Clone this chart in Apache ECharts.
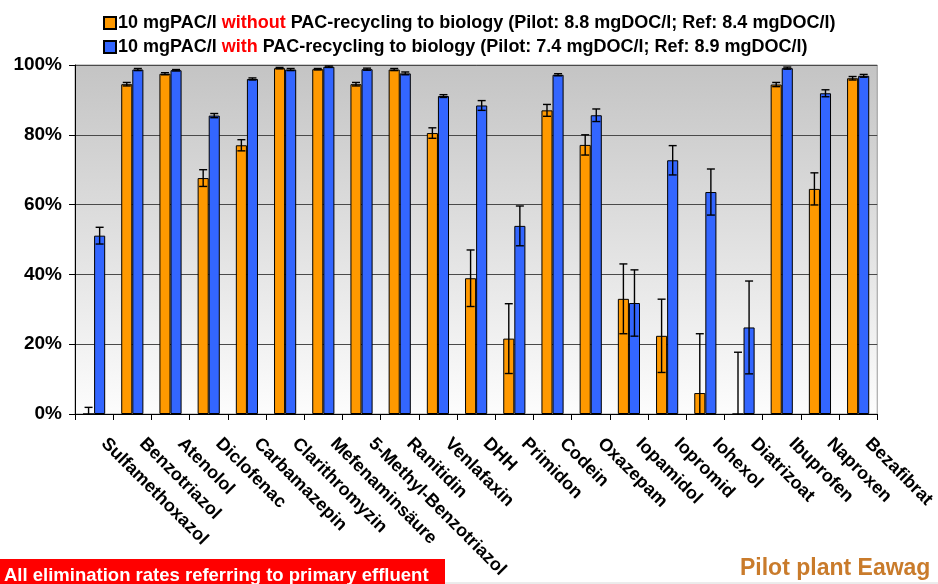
<!DOCTYPE html>
<html>
<head>
<meta charset="utf-8">
<script src="https://cdn.jsdelivr.net/npm/echarts@6/dist/echarts.min.js"></script>
<style>
  html, body { margin: 0; padding: 0; background: #fff; }
  #chart { width: 938px; height: 584px; }
</style>
</head>
<body>
<div id="chart"></div>
<script>
// Substances measured in the pilot plant
const categories = ['Sulfamethoxazol', 'Benzotriazol', 'Atenolol', 'Diclofenac', 'Carbamazepin',
  'Clarithromyzin', 'Mefenaminsäure', '5-Methyl-Benzotriazol', 'Ranitidin', 'Venlafaxin', 'DHH',
  'Primidon', 'Codein', 'Oxazepam', 'Iopamidol', 'Iopromid', 'Iohexol', 'Diatrizoat',
  'Ibuprofen', 'Naproxen', 'Bezafibrat'];

// Elimination (%) without PAC recycling, and its standard deviation
const withoutRecycling = [0, 94.5, 97.5, 67.6, 77.0, 99.1, 98.8, 94.5, 98.7, 80.5, 38.9,
  21.6, 87.0, 77.1, 33.0, 22.4, 6.0, 0, 94.4, 64.5, 96.2];
const withoutRecyclingErr = [1.9, 0.5, 0.3, 2.4, 1.6, 0.2, 0.2, 0.5, 0.3, 1.5, 8.1,
  10.0, 1.7, 2.9, 10.0, 10.5, 17.0, 17.7, 0.6, 4.6, 0.5];

// Elimination (%) with PAC recycling, and its standard deviation
const withRecycling = [51.1, 98.7, 98.5, 85.5, 96.0, 98.7, 99.5, 98.8, 97.6, 91.1, 88.4,
  53.9, 97.2, 85.6, 31.8, 72.7, 63.6, 24.8, 99.1, 91.9, 96.9];
const withRecyclingErr = [2.4, 0.3, 0.2, 0.6, 0.3, 0.3, 0.2, 0.3, 0.4, 0.4, 1.4,
  5.7, 0.3, 1.8, 9.5, 4.2, 6.6, 13.3, 0.3, 1.0, 0.4];

const yTicks = [0, 20, 40, 60, 80, 100];

const FONT = '"Liberation Sans", Arial, sans-serif';
const CAT_GAP = 0.42;

function errorSeries(values, errs, side) {
  return {
    type: 'custom',
    silent: true,
    z: 5,
    data: values.map((v, i) => [i, v, errs[i]]),
    renderItem: function (params, api) {
      const idx = api.value(0), v = api.value(1), e = api.value(2);
      const catW = api.size([1, 0])[0];
      const barW = catW * (1 - CAT_GAP) / 2;
      const x = api.coord([idx, v])[0] + side * barW / 2;
      const lowVal = Math.max(0, v - e);
      const yTop = api.coord([idx, v + e])[1];
      const yBot = api.coord([idx, lowVal])[1];
      const cap = 4;
      const style = { stroke: '#000', lineWidth: 1.4 };
      const children = [
        { type: 'line', shape: { x1: x, y1: yTop, x2: x, y2: yBot }, style: style },
        { type: 'line', shape: { x1: x - cap, y1: yTop, x2: x + cap, y2: yTop }, style: style }
      ];
      if (v - e > 0) {
        children.push({ type: 'line', shape: { x1: x - cap, y1: yBot, x2: x + cap, y2: yBot }, style: style });
      }
      return { type: 'group', children: children };
    }
  };
}

const chart = echarts.init(document.getElementById('chart'), null, { renderer: 'canvas' });

const legendRich = {
  a: { fontFamily: FONT, fontWeight: 'bold', fontSize: 18, color: '#000' },
  r: { fontFamily: FONT, fontWeight: 'bold', fontSize: 18, color: '#ff0000' }
};

chart.setOption({
  animation: false,
  backgroundColor: '#fff',
  textStyle: { fontFamily: FONT },
  legend: {
    orient: 'vertical',
    left: 98,
    top: 9,
    itemWidth: 12,
    itemHeight: 12,
    itemGap: 6,
    icon: 'rect',
    data: ['without', 'with'],
    formatter: function (name) {
      if (name === 'without') {
        return '{a|10 mgPAC/l }{r|without}{a| PAC-recycling to biology (Pilot: 8.8 mgDOC/l; Ref: 8.4 mgDOC/l)}';
      }
      return '{a|10 mgPAC/l }{r|with}{a| PAC-recycling to biology (Pilot: 7.4 mgDOC/l; Ref: 8.9 mgDOC/l)}';
    },
    textStyle: { rich: legendRich, padding: [0, 0, 0, -3] }
  },
  grid: {
    left: 75, right: 58, top: 65, bottom: 170,
    show: true,
    borderColor: '#999',
    borderWidth: 1,
    backgroundColor: new echarts.graphic.LinearGradient(0, 0, 0, 1, [
      { offset: 0, color: '#c4c4c4' },
      { offset: 1, color: '#fdfdfd' }
    ])
  },
  xAxis: {
    type: 'category',
    data: categories,
    axisLine: { lineStyle: { color: '#000', width: 1 } },
    axisTick: { show: true, length: 6, lineStyle: { color: '#000' } },
    axisLabel: {
      rotate: -45,
      interval: 0,
      margin: 17,
      padding: [0, 0, 0, 14],
      color: '#000',
      fontFamily: FONT,
      fontWeight: 'bold',
      fontSize: 18
    }
  },
  yAxis: {
    type: 'value',
    min: yTicks[0],
    max: yTicks[yTicks.length - 1],
    interval: 20,
    axisLine: { show: true, lineStyle: { color: '#000', width: 1 } },
    axisTick: { show: true, length: 6, lineStyle: { color: '#000' } },
    axisLabel: {
      formatter: '{value}%',
      color: '#000',
      fontFamily: FONT,
      fontWeight: 'bold',
      fontSize: 19,
      margin: 13
    },
    splitLine: { show: true, lineStyle: { color: '#4a4a4a', width: 1 } }
  },
  series: [
    {
      name: 'without',
      type: 'bar',
      data: withoutRecycling,
      barGap: '0%',
      barCategoryGap: (CAT_GAP * 100) + '%',
      itemStyle: { color: '#ff9900', borderColor: '#000', borderWidth: 1 }
    },
    {
      name: 'with',
      type: 'bar',
      data: withRecycling,
      barGap: '0%',
      barCategoryGap: (CAT_GAP * 100) + '%',
      itemStyle: { color: '#3366ff', borderColor: '#000', borderWidth: 1 }
    },
    errorSeries(withoutRecycling, withoutRecyclingErr, -1),
    errorSeries(withRecycling, withRecyclingErr, 1)
  ],
  graphic: [
    {
      type: 'rect',
      left: 0, top: 559,
      shape: { width: 445, height: 25 },
      style: { fill: '#ff0000' }
    },
    {
      type: 'text',
      x: 4, y: 576,
      style: {
        text: 'All elimination rates referring to primary effluent',
        fill: '#fff',
        font: 'bold 18.5px ' + FONT,
        verticalAlign: 'middle'
      }
    },
    {
      type: 'line',
      shape: { x1: 445, y1: 583, x2: 938, y2: 583 },
      style: { stroke: '#d8d8d8', lineWidth: 1 }
    },
    {
      type: 'text',
      x: 740, y: 569,
      style: {
        text: 'Pilot plant Eawag',
        fill: '#c97b2b',
        font: 'bold 23px ' + FONT,
        verticalAlign: 'middle'
      }
    }
  ]
});
</script>
</body>
</html>
